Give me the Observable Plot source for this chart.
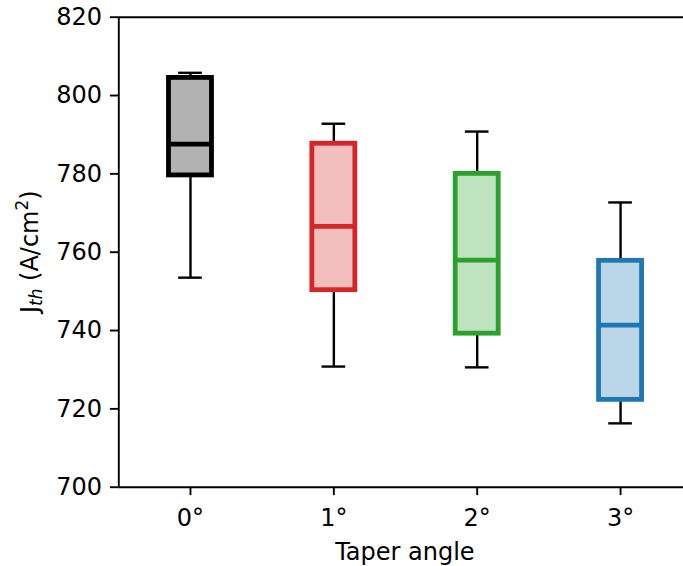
<!DOCTYPE html>
<html>
<head>
<meta charset="utf-8">
<script src="https://cdn.jsdelivr.net/npm/d3@7"></script>
<script src="https://cdn.jsdelivr.net/npm/@observablehq/plot@0.6"></script>
<style>
  html, body { margin: 0; padding: 0; background: white; }
  svg { display: block; }
</style>
</head>
<body>
<div id="chart"></div>
<script>
// ---- data ----
const angles = ["0°", "1°", "2°", "3°"];
const positions = [0, 1, 2, 3];
const whiskerLow  = [753.5, 730.8, 730.6, 716.3];
const q1          = [779.6, 750.3, 739.2, 722.3];
const median      = [787.6, 766.6, 758.0, 741.4];
const q3          = [804.5, 787.7, 780.0, 757.8];
const whiskerHigh = [805.8, 792.8, 790.8, 772.7];
const colors = ["#000000", "#d62728", "#2ca02c", "#1f77b4"];
const yTicks = [700, 720, 740, 760, 780, 800, 820];
const xLabel = "Taper angle";

const rows = positions.map((p, i) => ({
  pos: p, angle: angles[i], lo: whiskerLow[i], q1: q1[i], med: median[i],
  q3: q3[i], hi: whiskerHigh[i], color: colors[i]
}));

const boxHalf = 0.15;
const capHalf = 0.0825;

const W = 683, H = 566;
const mL = 118.3, mT = 16.7, mB = 79.3, mR = 0;

const chart = Plot.plot({
  width: W,
  height: H,
  marginLeft: mL,
  marginRight: mR,
  marginTop: mT,
  marginBottom: mB,
  style: { fontFamily: "DejaVu Sans", fontSize: "24px", background: "white", color: "black" },
  x: { type: "linear", domain: [-0.5, 3.439] },
  y: { domain: [700, 820] },
  marks: [
    // whiskers
    Plot.ruleX(rows, { x: "pos", y1: "q3", y2: "hi", stroke: "black", strokeWidth: 2.4 }),
    Plot.ruleX(rows, { x: "pos", y1: "q1", y2: "lo", stroke: "black", strokeWidth: 2.4 }),
    // caps
    Plot.ruleY(rows, { y: "hi", x1: d => d.pos - capHalf, x2: d => d.pos + capHalf, stroke: "black", strokeWidth: 2.4 }),
    Plot.ruleY(rows, { y: "lo", x1: d => d.pos - capHalf, x2: d => d.pos + capHalf, stroke: "black", strokeWidth: 2.4 }),
    // boxes
    Plot.rect(rows, {
      x1: d => d.pos - boxHalf, x2: d => d.pos + boxHalf, y1: "q1", y2: "q3",
      fill: d => d.color, fillOpacity: 0.3, stroke: d => d.color, strokeWidth: 4.8
    }),
    // medians
    Plot.ruleY(rows, { y: "med", x1: d => d.pos - boxHalf, x2: d => d.pos + boxHalf, stroke: d => d.color, strokeWidth: 4.8 }),
    // spines
    Plot.ruleX([-0.5], { stroke: "black", strokeWidth: 1.9 }),
    Plot.ruleY([700, 820], { stroke: "black", strokeWidth: 1.9 }),
    // axes
    Plot.axisY({ anchor: "left", ticks: yTicks, tickSize: 8.4, tickPadding: 8.4, strokeWidth: 1.9, fontSize: 24, label: null }),
    Plot.axisX({ anchor: "bottom", ticks: positions, tickFormat: i => angles[i], tickSize: 8.4, tickPadding: 12.9, strokeWidth: 1.9, fontSize: 24, label: null })
  ]
});

document.getElementById("chart").appendChild(chart);

// axis titles as real text
const svg = d3.select(chart);
const plotRight = mL + 4 * 143.3; // matplotlib axes extend slightly past the image edge
svg.append("text")
  .attr("x", (mL + plotRight) / 2)
  .attr("y", 560)
  .attr("text-anchor", "middle")
  .attr("font-family", "DejaVu Sans")
  .attr("font-size", 24)
  .attr("fill", "black")
  .text(xLabel);

const yl = svg.append("text")
  .attr("transform", `translate(37.5, ${(mT + (H - mB)) / 2}) rotate(-90)`)
  .attr("text-anchor", "middle")
  .attr("font-family", "DejaVu Sans")
  .attr("font-size", 24)
  .attr("fill", "black");
yl.append("tspan").text("J");
yl.append("tspan").attr("font-size", 17).attr("font-style", "italic").attr("dy", 4).text("th");
yl.append("tspan").attr("dy", -4).text(" (A/cm");
yl.append("tspan").attr("font-size", 17).attr("dy", -10).text("2");
yl.append("tspan").attr("dy", 10).text(")");
</script>
</body>
</html>
